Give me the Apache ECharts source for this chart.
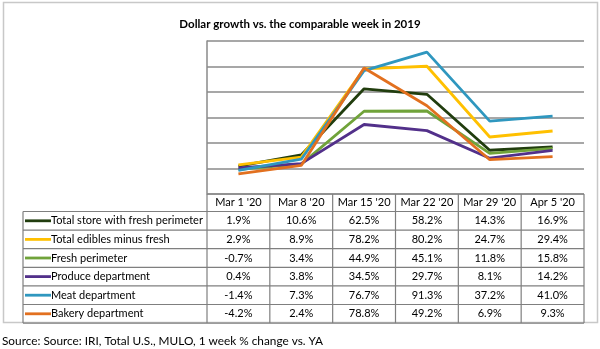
<!DOCTYPE html>
<html>
<head>
<meta charset="utf-8">
<script src="https://cdn.jsdelivr.net/npm/echarts@6/dist/echarts.min.js"></script>
<style>
  html, body { margin: 0; padding: 0; background: #ffffff; }
  #chart { width: 600px; height: 349px; }
</style>
</head>
<body>
<div id="chart"></div>
<script>
// Weekly dollar growth (% vs. same week a year ago)
const weeks = ["Mar 1 '20", "Mar 8 '20", "Mar 15 '20", "Mar 22 '20", "Mar 29 '20", "Apr 5 '20"];
const totalStore     = [1.9, 10.6, 62.5, 58.2, 14.3, 16.9];
const totalEdibles   = [2.9, 8.9, 78.2, 80.2, 24.7, 29.4];
const freshPerimeter = [-0.7, 3.4, 44.9, 45.1, 11.8, 15.8];
const produceDept    = [0.4, 3.8, 34.5, 29.7, 8.1, 14.2];
const meatDept       = [-1.4, 7.3, 76.7, 91.3, 37.2, 41.0];
const bakeryDept     = [-4.2, 2.4, 78.8, 49.2, 6.9, 9.3];
const seriesNames = [
  'Total store with fresh perimeter',
  'Total edibles minus fresh',
  'Fresh perimeter',
  'Produce department',
  'Meat department',
  'Bakery department'
];
const valueAxisMin = -20;
const valueAxisMax = 100;
const valueAxisStep = 20;

const seriesData = [totalStore, totalEdibles, freshPerimeter, produceDept, meatDept, bakeryDept];
const colors = ['#213d0e', '#ffc000', '#70a33a', '#52308a', '#2f97bf', '#e2701f'];

const FONT = 'Lato, "Open Sans", sans-serif';
const GRID = { left: 207, top: 41, width: 377, height: 153 };

const chart = echarts.init(document.getElementById('chart'), null, { renderer: 'canvas' });

chart.setOption({
  backgroundColor: '#ffffff',
  animation: false,
  title: {
    text: 'Dollar growth vs. the comparable week in 2019',
    left: 'center',
    top: 13,
    textStyle: { fontFamily: FONT, fontSize: 11.5, fontWeight: 'bold', color: '#000000' }
  },
  grid: GRID,
  xAxis: {
    type: 'category',
    data: weeks,
    boundaryGap: true,
    axisLine: { show: false },
    axisTick: { show: false },
    axisLabel: { show: false }
  },
  yAxis: {
    type: 'value',
    min: valueAxisMin,
    max: valueAxisMax,
    interval: valueAxisStep,
    axisLabel: { show: false },
    axisTick: { show: false },
    axisLine: { show: true, lineStyle: { color: '#8a8a8a', width: 1.5 } },
    splitLine: { show: true, lineStyle: { color: '#8a8a8a', width: 1.5 } }
  },
  series: seriesNames.map((name, i) => ({
    name: name,
    type: 'line',
    data: seriesData[i],
    showSymbol: false,
    symbol: 'none',
    lineStyle: { color: colors[i], width: 2.8 },
    itemStyle: { color: colors[i] },
    z: 3 + i
  }))
});

// Data table under the plot, aligned to the category bands
function buildTable() {
  const els = [];
  const gridColor = '#7f7f7f';
  const c0 = chart.convertToPixel({ xAxisIndex: 0 }, 0);
  const c1 = chart.convertToPixel({ xAxisIndex: 0 }, 1);
  const band = c1 - c0;
  const x0 = c0 - band / 2;
  const x1 = x0 + band * weeks.length;
  const headTop = chart.convertToPixel({ yAxisIndex: 0 }, valueAxisMin);
  const headBottom = headTop + 17.5;
  const rowH = 18.6;
  const bottom = headBottom + rowH * seriesNames.length;
  const legendLeft = 23;
  const cellFont = '11px ' + FONT;

  const line = (xa, ya, xb, yb) => els.push({
    type: 'line', silent: true,
    shape: { x1: xa, y1: ya, x2: xb, y2: yb },
    style: { stroke: gridColor, lineWidth: 1.2 }
  });

  // outer frame of the chart area
  els.push({
    type: 'rect', silent: true, z: -1,
    shape: { x: 3.5, y: 2.5, width: 594, height: 320 },
    style: { fill: 'none', stroke: '#c8c8c8', lineWidth: 1.5 }
  });

  // horizontal rules
  line(x0, headTop, x1, headTop);
  line(legendLeft, headBottom, x1, headBottom);
  for (let r = 1; r <= seriesNames.length; r++) {
    line(legendLeft, headBottom + rowH * r, x1, headBottom + rowH * r);
  }
  // vertical rules
  line(legendLeft, headBottom, legendLeft, bottom);
  for (let k = 0; k <= weeks.length; k++) {
    line(x0 + band * k, headTop, x0 + band * k, bottom);
  }

  // header labels
  weeks.forEach((w, k) => els.push({
    type: 'text', silent: true,
    style: {
      x: x0 + band * (k + 0.5), y: (headTop + headBottom) / 2,
      text: w, align: 'center', verticalAlign: 'middle',
      font: cellFont, fill: '#000000'
    }
  }));

  // body rows: legend key + values
  seriesNames.forEach((name, r) => {
    const yMid = headBottom + rowH * (r + 0.5);
    els.push({
      type: 'line', silent: true,
      shape: { x1: 25, y1: yMid, x2: 51, y2: yMid },
      style: { stroke: colors[r], lineWidth: 2.8 }
    });
    els.push({
      type: 'text', silent: true,
      style: {
        x: 51, y: yMid, text: name, align: 'left', verticalAlign: 'middle',
        font: cellFont, fill: '#000000'
      }
    });
    seriesData[r].forEach((v, k) => els.push({
      type: 'text', silent: true,
      style: {
        x: x0 + band * (k + 0.5), y: yMid,
        text: v.toFixed(1) + '%', align: 'center', verticalAlign: 'middle',
        font: cellFont, fill: '#000000'
      }
    }));
  });

  // source note
  els.push({
    type: 'text', silent: true,
    style: {
      x: 2, y: 341, text: 'Source: Source: IRI, Total U.S., MULO, 1 week % change vs. YA',
      align: 'left', verticalAlign: 'middle', font: '11.8px ' + FONT, fill: '#000000'
    }
  });

  chart.setOption({ graphic: { elements: els } });
}

buildTable();
</script>
</body>
</html>
